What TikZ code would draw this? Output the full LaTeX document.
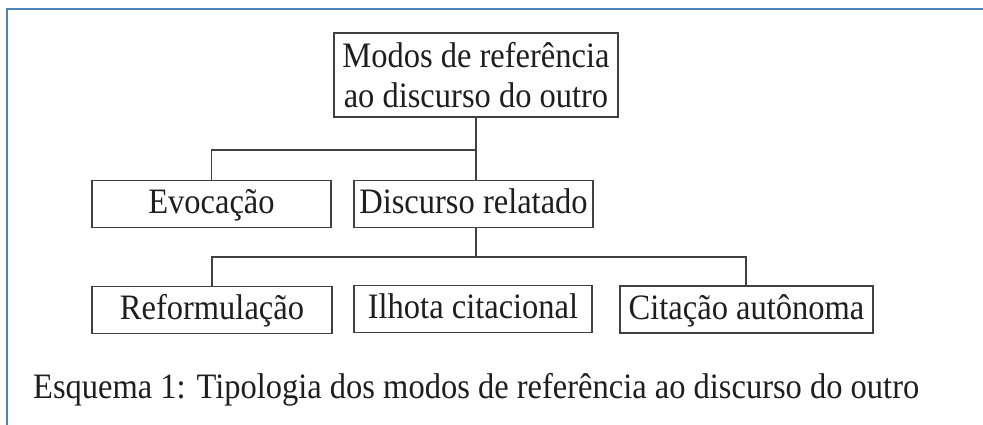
\documentclass[tikz,border=0pt]{standalone}
\usepackage{fontspec}
\usepackage{graphicx}
\setmainfont{Liberation Serif}
\definecolor{frameblue}{RGB}{79,129,189}
\definecolor{boxline}{RGB}{64,64,64}
\definecolor{txt}{RGB}{30,30,30}
\newcommand{\tallt}[1]{\scalebox{1}[1.1]{#1}}
\tikzset{
  box/.style={draw=boxline, line width=1.3pt, inner sep=0pt, text=txt,
    font=\fontsize{32.5}{40}\selectfont, text height=33pt, text depth=14pt, anchor=center},
  conn/.style={draw=boxline, line width=1.3pt},
  frameline/.style={draw=frameblue, line width=2pt}
}
\begin{document}
\begin{tikzpicture}[x=1pt,y=-1pt]
\useasboundingbox (0,0) rectangle (983,425);
\draw[frameline] (983,9) -- (7,9) -- (7,425);
\node[draw=boxline, line width=1.3pt, inner sep=0pt, text=txt, align=center,
  font=\fontsize{32.5}{40}\selectfont, minimum width=284pt, minimum height=84pt]
  (top) at (476,75) {\tallt{Modos de referência}\\\tallt{ao discurso do outro}};
\node[box, minimum width=239pt] (evo) at (211.5,204) {\tallt{Evocação}};
\node[box, minimum width=239pt] (disc) at (473.5,204) {\tallt{Discurso relatado}};
\node[box, minimum width=240pt] (ref) at (212,310) {\tallt{Reformulação}};
\node[box, minimum width=238pt] (ilh) at (473,309) {\tallt{Ilhota citacional}};
\node[box, minimum width=253pt] (cit) at (746.5,309.5) {\tallt{Citação autônoma}};
\coordinate (j1) at (476,150);
\coordinate (j2) at (476,257);
\coordinate (l2) at (212,257);
\coordinate (r2) at (746,257);
\draw[conn] (top.south) -- (top.south |- disc.north);
\draw[conn] (j1) -| (evo.north);
\draw[conn] (j2 |- disc.south) -- (j2);
\draw[conn] (ref.north) |- (l2) -- (r2) -- (r2 |- cit.north);
\node[anchor=base west, inner sep=0pt, text=txt, font=\fontsize{32.5}{40}\selectfont]
  (cap) at (33,398) {\tallt{Esquema 1: Tipologia dos modos de referência ao discurso do outro}};
\end{tikzpicture}
\end{document}
